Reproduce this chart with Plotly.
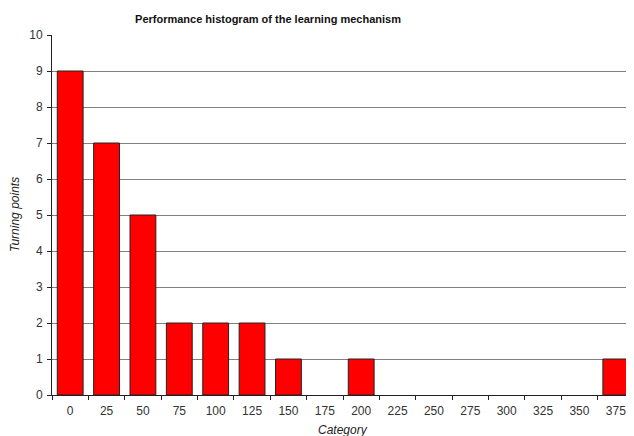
import plotly.graph_objects as go

categories = ["0", "25", "50", "75", "100", "125", "150", "175", "200", "225",
              "250", "275", "300", "325", "350", "375"]
turning_points = [9, 7, 5, 2, 2, 2, 1, 0, 1, 0, 0, 0, 0, 0, 0, 1]
y_ticks = list(range(0, 11))

# page body has an 8px default margin; compensate so the plot lands where the reference has it
OFF = 8
W, H = 634 - OFF, 436 - OFF
L, R, T, B = 52 - OFF, 0, 35 - OFF, 41
pw, ph = W - L - R, H - T - B

fig = go.Figure(go.Bar(
    x=categories, y=turning_points,
    marker=dict(color="#FF0000",
                line=dict(color="#222222",
                          width=[1 if v > 0 else 0 for v in turning_points])),
))

font = "Liberation Sans, Arial, sans-serif"
fig.update_layout(
    width=W, height=H,
    margin=dict(l=L, r=R, t=T, b=B),
    paper_bgcolor="white", plot_bgcolor="white",
    bargap=0.29,
    showlegend=False,
    font=dict(family=font, size=12, color="#222222"),
    title=dict(text="<b>Performance histogram of the learning mechanism</b>",
               x=(268 - OFF) / W, xanchor="center", y=1 - (19 - OFF) / H, yanchor="middle",
               font=dict(size=11, family=font, color="#111111")),
)
fig.update_xaxes(
    type="category", tickson="boundaries", ticks="outside", ticklen=4,
    tickcolor="#222222", showline=True, linecolor="#222222", linewidth=1,
    showgrid=False, tickfont=dict(size=12, color="#333333"),
    ticklabelstandoff=5,
)
fig.update_yaxes(
    range=[0, 10], tickvals=y_ticks, ticks="outside", ticklen=4,
    tickcolor="#222222", showline=True, linecolor="#222222", linewidth=1,
    showgrid=True, gridcolor="#808080", gridwidth=1, zeroline=False,
    tickfont=dict(size=12, color="#333333"),
    ticklabelstandoff=2,
)
fig.add_annotation(text="<i>Category</i>", xref="paper", yref="paper",
                   x=0.5, y=(395 - 430) / ph, xanchor="center", yanchor="middle",
                   showarrow=False, font=dict(size=12, family=font, color="#222222"))
fig.add_annotation(text="<i>Turning points</i>", xref="paper", yref="paper",
                   x=(15 - 52) / pw, y=0.5, xanchor="center", yanchor="middle",
                   textangle=-90, showarrow=False,
                   font=dict(size=12, family=font, color="#222222"))

fig.write_html("out.html")
